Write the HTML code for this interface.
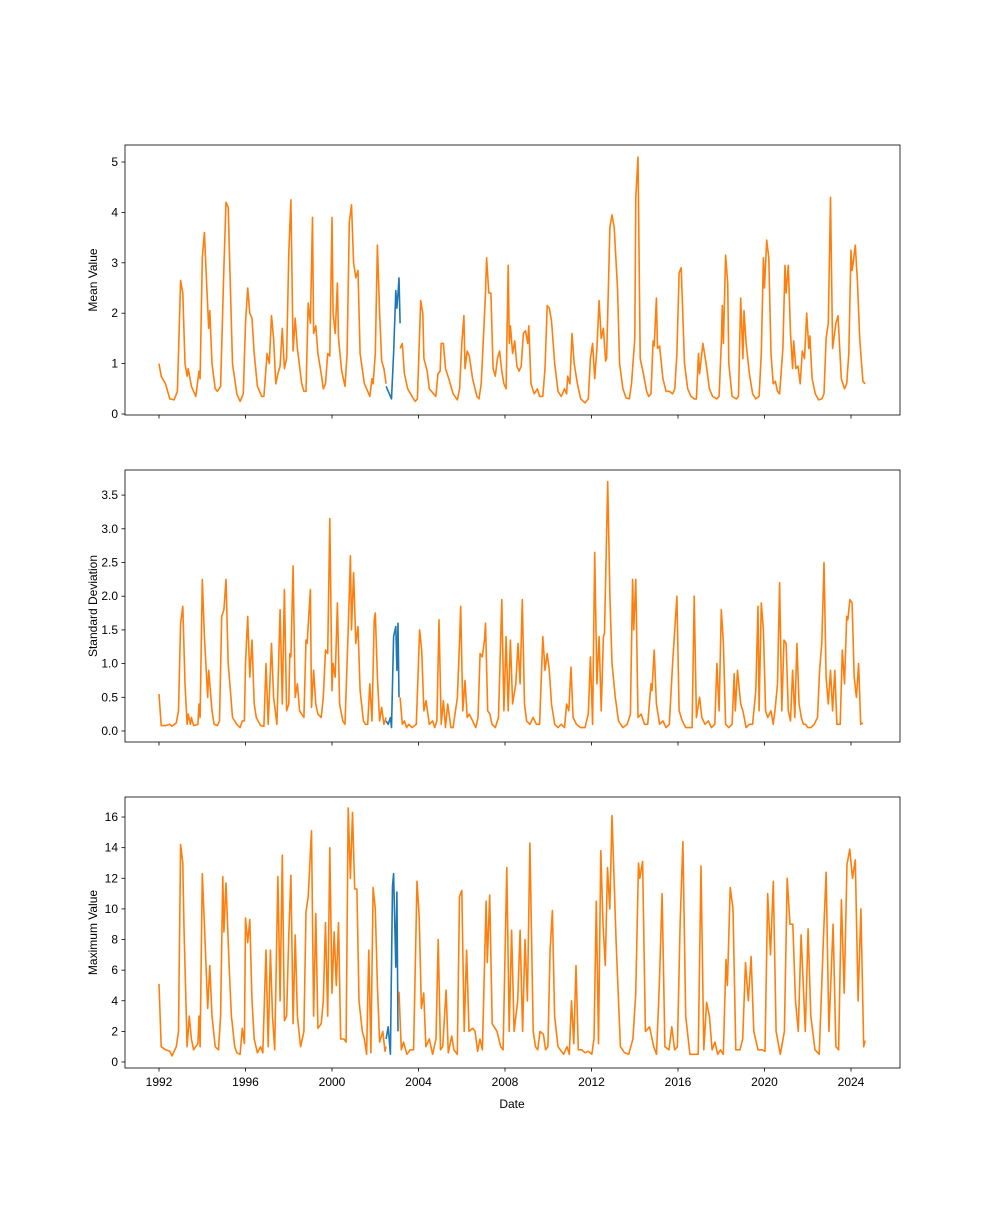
<!DOCTYPE html>
<html><head><meta charset="utf-8"><style>
body{margin:0;background:#fff}
svg text{font-family:"Liberation Sans","DejaVu Sans",sans-serif;font-size:12px;fill:#000}
</style></head><body>
<svg id="s" width="1000" height="1200" xmlns="http://www.w3.org/2000/svg"></svg>
<script>
const S=document.getElementById('s');
const X=t=>159+(t-1992)*21.625;
let h='';
function parse(str){const a=str.trim().split(/[\s,]+/).map(Number);const r=[];for(let i=0;i<a.length;i+=2)r.push([a[i],a[i+1]]);return r;}
const AN=[[2003.1,2003.1],[2005.9,2006.0],[2008.7,2009.15],[2012.35,2012.95],[2021.45,2024.65]];
function remap(t){for(let i=0;i<AN.length-1;i++){const a=AN[i],b=AN[i+1];if(t<=b[0]||i==AN.length-2){return a[1]+(t-a[0])*(b[1]-a[1])/(b[0]-a[0]);}}return t;}
function panel(top,bot,y0,k,ticks,fmt,label,o1,blue,o2,showX,rm){
  const Y=v=>y0-v*k;
  h+=`<defs><clipPath id="c${top}"><rect x="125" y="${top}" width="775" height="${bot-top}"/></clipPath></defs>`;
  const pl=(pts,c)=>`<polyline clip-path="url(#c${top})" fill="none" stroke="${c}" stroke-width="1.6" stroke-linejoin="round" points="${pts.map(p=>X(p[0]).toFixed(1)+','+Y(p[1]).toFixed(1)).join(' ')}"/>`;
  let p2=parse(o2);if(rm)p2=p2.map(p=>[remap(p[0]),p[1]]);
  h+=pl(parse(blue),'#1f77b4')+pl(parse(o1),'#ff7f0e')+pl(p2,'#ff7f0e');
  h+=`<rect x="125" y="${top}" width="775" height="${bot-top}" fill="none" stroke="#000" stroke-width="0.8"/>`;
  for(const v of ticks){const y=Y(v);h+=`<line x1="121.5" x2="125" y1="${y}" y2="${y}" stroke="#000" stroke-width="0.8"/><text x="118" y="${y+4}" text-anchor="end">${fmt(v)}</text>`;}
  for(let yr=1992;yr<=2024;yr+=4){const x=X(yr);h+=`<line x1="${x}" x2="${x}" y1="${bot}" y2="${bot+3.5}" stroke="#000" stroke-width="0.8"/>`;if(showX)h+=`<text x="${x}" y="${bot+18}" text-anchor="middle">${yr}</text>`;}
  const cy=(top+bot)/2;h+=`<text transform="translate(97,${cy}) rotate(-90)" text-anchor="middle">${label}</text>`;
}
panel(145,415,414,50.4,[0,1,2,3,4,5],v=>v,'Mean Value',
`1992.0 1.0 1992.1 .75 1992.3 .6 1992.5 .3 1992.7 .28 1992.85 .45 1993.0 2.65 1993.1 2.4 1993.2 1.0 1993.3 .75 1993.35 .9 1993.5 .55 1993.7 .35 1993.85 .85 1993.9 .7 1994.0 3.1 1994.1 3.6 1994.2 2.6 1994.3 1.7 1994.35 2.05 1994.45 1.0 1994.6 .5 1994.7 .45 1994.85 .55 1995.0 2.9 1995.1 4.2 1995.2 4.1 1995.3 2.5 1995.4 1.0 1995.6 .4 1995.75 .25 1995.9 .4 1996.0 1.8 1996.1 2.5 1996.2 2.0 1996.3 1.9 1996.4 1.2 1996.55 .55 1996.75 .35 1996.85 .35 1997.0 1.2 1997.1 1.0 1997.2 1.95 1997.3 1.5 1997.4 .6 1997.5 .8 1997.6 .95 1997.7 1.7 1997.8 .9 1997.9 1.1 1998.0 3.2 1998.1 4.25 1998.2 1.25 1998.3 1.9 1998.4 1.3 1998.6 .6 1998.7 .45 1998.8 .45 1998.9 2.2 1999.0 1.8 1999.1 3.9 1999.15 1.6 1999.25 1.75 1999.35 1.2 1999.5 .8 1999.6 .5 1999.7 .6 1999.8 1.2 1999.9 1.15 2000.0 3.9 2000.05 2.0 2000.15 1.6 2000.25 2.6 2000.3 1.5 2000.45 .85 2000.6 .55 2000.7 1.2 2000.8 3.8 2000.9 4.15 2001.0 3.0 2001.1 2.7 2001.2 2.85 2001.3 1.2 2001.5 .6 2001.65 .45 2001.75 .35 2001.85 .7 2001.9 .6 2002.0 1.2 2002.1 3.35 2002.2 2.0 2002.3 1.05 2002.4 .9 2002.5 .6`,
`2002.5 .55 2002.6 .45 2002.75 .3 2002.85 1.2 2002.95 2.45 2003.0 2.1 2003.05 2.4 2003.1 2.7 2003.15 1.8`,
`2003.15 1.3 2003.25 1.4 2003.35 .8 2003.5 .5 2003.7 .35 2003.85 .25 2003.95 .3 2004.05 1.6 2004.1 2.25 2004.2 2.0 2004.25 1.1 2004.4 .85 2004.5 .5 2004.7 .4 2004.8 .35 2004.9 .8 2005.0 .85 2005.05 1.4 2005.15 1.4 2005.25 .9 2005.4 .7 2005.6 .4 2005.8 .28 2005.9 .5 2006.0 1.4 2006.1 1.95 2006.15 .9 2006.25 1.25 2006.35 1.15 2006.5 .7 2006.7 .35 2006.8 .3 2006.9 .6 2007.0 1.5 2007.1 2.4 2007.15 3.1 2007.25 2.4 2007.35 2.4 2007.45 .9 2007.55 .75 2007.65 1.1 2007.75 1.25 2007.85 .85 2007.95 .6 2008.05 .5 2008.15 2.95 2008.2 1.4 2008.25 1.75 2008.35 1.2 2008.45 1.45 2008.55 .95 2008.65 .85 2008.75 .95 2008.85 1.6 2008.95 1.65 2009.05 1.4 2009.1 1.75 2009.2 .6 2009.35 .4 2009.5 .5 2009.6 .35 2009.75 .35 2009.85 .9 2009.95 2.15 2010.05 2.1 2010.15 1.85 2010.3 1.0 2010.45 .45 2010.6 .35 2010.75 .5 2010.85 .4 2010.9 .75 2011.0 .6 2011.1 1.6 2011.2 1.0 2011.35 .6 2011.5 .3 2011.7 .22 2011.85 .3 2011.95 1.1 2012.05 1.4 2012.15 .7 2012.25 1.3 2012.35 2.25 2012.45 1.5 2012.55 1.7 2012.65 1.05 2012.7 1.1 2012.85 3.7 2012.95 3.95 2013.05 3.7 2013.2 2.5 2013.3 1.0 2013.45 .5 2013.6 .32 2013.75 .3 2013.85 .6 2014.0 1.5 2014.05 4.3 2014.15 5.1 2014.25 1.1 2014.4 .8 2014.55 .45 2014.65 .35 2014.75 .4 2014.85 1.45 2014.9 1.35 2015.0 2.3 2015.05 1.3 2015.15 1.35 2015.3 .7 2015.45 .45 2015.6 .45 2015.75 .4 2015.85 .5 2015.95 1.2 2016.05 2.8 2016.15 2.9 2016.3 1.0 2016.45 .5 2016.6 .35 2016.75 .3 2016.85 .3 2016.95 1.2 2017.0 .8 2017.15 1.4 2017.3 1.0 2017.45 .5 2017.6 .35 2017.8 .3 2017.9 .35 2018.0 1.4 2018.05 2.15 2018.1 1.4 2018.2 3.15 2018.3 2.6 2018.35 1.0 2018.5 .35 2018.7 .3 2018.8 .35 2018.9 2.3 2019.0 1.1 2019.05 2.05 2019.15 1.4 2019.3 .8 2019.45 .4 2019.6 .3 2019.75 .35 2019.85 1.2 2019.95 3.1 2020.0 2.5 2020.1 3.45 2020.2 3.1 2020.3 1.2 2020.4 .6 2020.5 .65 2020.6 .45 2020.7 .4 2020.85 1.3 2020.95 2.95 2021.0 2.4 2021.1 2.95 2021.2 1.6 2021.3 .9 2021.35 1.45 2021.45 .9 2021.55 .95 2021.65 .6 2021.75 1.25 2021.85 1.1 2021.95 2.0 2022.05 1.3 2022.1 1.55 2022.2 .7 2022.35 .4 2022.5 .28 2022.65 .3 2022.75 .4 2022.85 1.5 2022.95 1.8 2023.05 4.3 2023.15 1.3 2023.3 1.8 2023.4 1.95 2023.55 .7 2023.7 .5 2023.8 .6 2023.9 1.2 2024.0 3.25 2024.05 2.85 2024.1 3.0 2024.2 3.35 2024.3 2.6 2024.4 1.5 2024.55 .65 2024.65 .6`,false,false);
panel(470,742,731,67.4,[0,.5,1,1.5,2,2.5,3,3.5],v=>v.toFixed(1),'Standard Deviation',
`1992.0 .55 1992.1 .08 1992.3 .08 1992.5 .1 1992.6 .07 1992.8 .12 1992.9 .3 1993.0 1.6 1993.1 1.85 1993.2 .7 1993.3 .1 1993.35 .25 1993.45 .1 1993.5 .2 1993.6 .08 1993.8 .1 1993.85 .4 1993.9 .2 1994.0 2.25 1994.1 1.4 1994.25 .5 1994.3 .9 1994.45 .3 1994.55 .1 1994.7 .08 1994.8 .15 1994.9 1.7 1995.0 1.8 1995.1 2.25 1995.2 1.0 1995.3 .6 1995.4 .2 1995.6 .1 1995.75 .05 1995.85 .15 1995.95 .15 1996.0 1.0 1996.1 1.7 1996.2 .8 1996.3 1.35 1996.4 .4 1996.5 .2 1996.7 .08 1996.85 .07 1996.95 1.0 1997.05 .1 1997.2 1.3 1997.3 .5 1997.45 .1 1997.6 1.8 1997.7 .4 1997.8 2.1 1997.9 .3 1998.0 .4 1998.05 1.15 1998.1 1.1 1998.2 2.45 1998.3 .5 1998.4 .7 1998.5 .3 1998.7 .2 1998.8 1.35 1998.85 1.3 1999.0 2.1 1999.05 .35 1999.15 .9 1999.25 .4 1999.35 .25 1999.5 .2 1999.6 .5 1999.7 1.2 1999.8 1.15 1999.9 3.15 2000.0 .6 2000.05 1.0 2000.15 .8 2000.25 1.9 2000.35 .4 2000.5 .15 2000.6 .1 2000.75 1.5 2000.85 2.6 2000.9 1.5 2001.0 2.35 2001.1 1.3 2001.2 1.55 2001.3 .6 2001.45 .15 2001.55 .1 2001.65 .1 2001.75 .7 2001.85 .15 2001.95 1.65 2002.0 1.75 2002.1 .8 2002.2 .15 2002.3 .35 2002.4 .1 2002.5 .2`,
`2002.5 .15 2002.6 .1 2002.7 .2 2002.75 .05 2002.85 1.4 2002.95 1.55 2003.0 .9 2003.05 1.6 2003.1 .5`,
`2003.15 .5 2003.25 .1 2003.35 .15 2003.45 .05 2003.55 .1 2003.7 .05 2003.9 .1 2004.05 1.5 2004.15 1.2 2004.25 .3 2004.35 .45 2004.5 .1 2004.65 .15 2004.75 .05 2004.85 .15 2004.95 1.65 2005.05 .1 2005.15 .45 2005.25 .05 2005.35 .4 2005.5 .05 2005.6 .05 2005.8 .5 2005.9 1.35 2005.95 1.85 2006.05 .3 2006.15 .75 2006.25 .2 2006.35 .25 2006.5 .15 2006.65 .05 2006.75 .2 2006.85 1.15 2006.95 1.1 2007.05 1.35 2007.1 1.6 2007.2 .3 2007.3 .25 2007.4 .1 2007.55 .05 2007.7 .2 2007.85 1.95 2007.95 .3 2008.05 1.4 2008.15 .3 2008.25 1.35 2008.35 .4 2008.5 .7 2008.6 1.3 2008.7 .7 2008.8 1.95 2008.9 .4 2009.0 .15 2009.15 .1 2009.3 .2 2009.45 .1 2009.6 .1 2009.75 1.4 2009.85 .9 2009.95 1.15 2010.05 .9 2010.15 .4 2010.3 .1 2010.45 .05 2010.6 .1 2010.75 .05 2010.85 .4 2010.95 .3 2011.05 .95 2011.15 .2 2011.3 .1 2011.5 .05 2011.7 .05 2011.85 .25 2011.95 1.1 2012.05 .1 2012.15 2.65 2012.25 .7 2012.35 1.4 2012.45 .3 2012.55 1.4 2012.6 1.45 2012.75 3.7 2012.85 2.0 2012.95 1.0 2013.1 .5 2013.25 .15 2013.45 .05 2013.65 .1 2013.8 .25 2013.9 2.25 2013.95 1.5 2014.05 2.25 2014.15 .2 2014.3 .25 2014.45 .1 2014.6 .1 2014.75 .7 2014.8 .6 2014.9 1.2 2015.0 .4 2015.15 .1 2015.3 .15 2015.45 .05 2015.6 .1 2015.75 1.0 2015.95 2.0 2016.05 .3 2016.2 .15 2016.35 .05 2016.55 .05 2016.65 .05 2016.75 2.0 2016.85 .2 2017.0 .5 2017.1 .2 2017.25 .1 2017.4 .15 2017.55 .05 2017.7 .1 2017.8 1.0 2017.9 .3 2018.0 1.8 2018.1 1.3 2018.2 .1 2018.35 .05 2018.5 .1 2018.6 .85 2018.65 .3 2018.75 .9 2018.9 .4 2019.0 .3 2019.15 .05 2019.3 .1 2019.45 .1 2019.6 .6 2019.7 1.85 2019.75 .3 2019.85 1.9 2019.95 1.5 2020.05 .3 2020.15 .2 2020.3 .3 2020.4 .1 2020.5 .35 2020.6 .7 2020.7 2.2 2020.8 .3 2020.9 1.35 2021.0 1.3 2021.1 .3 2021.2 .15 2021.3 .9 2021.4 .2 2021.5 1.3 2021.6 .4 2021.7 .2 2021.8 .1 2021.9 .1 2022.0 .05 2022.15 .05 2022.3 .1 2022.45 .2 2022.55 .9 2022.65 1.3 2022.75 2.5 2022.85 .8 2022.95 .4 2023.05 .9 2023.15 .3 2023.25 .9 2023.35 .1 2023.5 .1 2023.6 1.2 2023.7 .7 2023.8 1.7 2023.85 1.65 2023.95 1.95 2024.05 1.9 2024.15 .8 2024.25 .5 2024.35 1.0 2024.45 .1 2024.55 .12`,false,false);
panel(797,1068,1062,15.31,[0,2,4,6,8,10,12,14,16],v=>v,'Maximum Value',
`1992.0 5.1 1992.1 1 1992.3 .8 1992.5 .7 1992.6 .4 1992.8 1.0 1992.9 2 1993.0 14.2 1993.1 13 1993.15 9 1993.3 1 1993.4 3 1993.5 1.5 1993.6 .8 1993.8 1.2 1993.85 3 1993.9 1 1994.0 12.3 1994.1 9 1994.25 3.5 1994.35 6.3 1994.45 3 1994.6 1 1994.75 .8 1994.85 3 1994.95 12.1 1995.0 8.5 1995.1 11.7 1995.25 6 1995.35 3 1995.5 1 1995.6 .6 1995.75 .5 1995.85 2.2 1995.95 1.2 1996.0 9.4 1996.1 7.8 1996.2 9.3 1996.3 4 1996.4 1.5 1996.55 .6 1996.7 1 1996.8 .6 1996.95 7.3 1997.05 1 1997.15 7.3 1997.25 3 1997.35 .8 1997.5 12.1 1997.6 4 1997.7 13.5 1997.8 2.7 1997.9 3 1998.0 8.3 1998.1 12.2 1998.2 2.5 1998.3 8.3 1998.4 3 1998.55 1 1998.7 2 1998.8 9.8 1998.9 10.8 1999.05 15.1 1999.15 3 1999.25 9.7 1999.35 2.2 1999.5 2.5 1999.6 4 1999.7 9.1 1999.8 3 1999.9 14 2000.0 4.5 2000.1 8.5 2000.2 5 2000.3 9.1 2000.4 1.5 2000.55 1.5 2000.65 1.3 2000.75 16.6 2000.85 12 2000.95 16.3 2001.05 11.3 2001.15 11.3 2001.25 4 2001.4 2 2001.5 1.5 2001.6 .5 2001.7 7.3 2001.8 .6 2001.9 11.4 2002.0 10 2002.1 5 2002.2 1.3 2002.35 2 2002.45 .7 2002.5 1`,
`2002.5 1.5 2002.6 2.3 2002.7 .5 2002.8 11.5 2002.85 12.3 2002.95 6.2 2003.0 11.1 2003.05 2`,
`2003.1 4.6 2003.2 .8 2003.3 1.3 2003.45 .5 2003.6 .8 2003.75 .8 2003.9 11.8 2004.0 9.5 2004.1 3.5 2004.2 4.5 2004.3 1 2004.45 1.5 2004.6 .5 2004.75 1.5 2004.85 8 2004.95 .8 2005.05 1 2005.2 4.7 2005.3 .6 2005.45 1.7 2005.55 .8 2005.7 .5 2005.8 10.8 2005.9 11.2 2006.0 2 2006.1 7.3 2006.2 2 2006.35 2.2 2006.45 2 2006.55 .7 2006.65 1.5 2006.75 .8 2006.9 10.5 2006.95 6.5 2007.05 10.9 2007.15 2.5 2007.35 2 2007.5 1 2007.6 .8 2007.75 12.7 2007.85 2 2007.95 8.6 2008.05 2 2008.2 4 2008.3 8.6 2008.4 2 2008.5 8 2008.6 4 2008.7 14.3 2008.85 2 2008.95 1 2009.05 .8 2009.15 2 2009.3 1.8 2009.4 .8 2009.5 1 2009.6 7.3 2009.7 9.9 2009.8 3 2009.95 1 2010.05 .8 2010.2 .5 2010.35 1 2010.45 .5 2010.55 4 2010.65 1.2 2010.75 6.3 2010.85 .8 2011.0 .8 2011.15 .6 2011.3 .7 2011.45 .5 2011.55 1.5 2011.65 10.5 2011.75 1.2 2011.85 13.8 2011.95 9 2012.05 6.3 2012.15 12.7 2012.25 10 2012.35 16.1 2012.5 7.7 2012.65 1 2012.8 .6 2012.95 .5 2013.1 1.5 2013.2 4.4 2013.3 13 2013.35 12 2013.45 13.1 2013.55 2 2013.7 2.3 2013.85 1 2013.95 .5 2014.05 5 2014.15 11 2014.25 1 2014.4 .8 2014.5 2.3 2014.6 .8 2014.7 1 2014.8 9.2 2014.9 14.4 2015.0 3 2015.15 .5 2015.3 .5 2015.45 .5 2015.55 12.8 2015.65 .8 2015.75 3.9 2015.85 3 2015.95 .8 2016.05 1.3 2016.15 .5 2016.25 .8 2016.35 .5 2016.45 6.7 2016.5 5 2016.6 11.4 2016.7 10 2016.8 .8 2016.95 .8 2017.05 1.5 2017.15 6.5 2017.25 4 2017.35 6.9 2017.45 2 2017.6 .8 2017.75 .8 2017.85 .7 2017.95 11 2018.05 7 2018.15 11.8 2018.25 2 2018.4 .5 2018.55 2 2018.65 12 2018.75 9 2018.85 9 2018.95 4 2019.05 2 2019.15 8.3 2019.3 2 2019.4 8.7 2019.5 3 2019.65 .8 2019.8 .5 2019.95 8 2020.05 12.4 2020.15 2 2020.3 9 2020.4 1 2020.5 .8 2020.6 10.6 2020.7 4.5 2020.8 12.9 2020.9 13.9 2021.0 12 2021.1 13.2 2021.2 4 2021.3 10 2021.4 1 2021.45 1.4`,true,true);
h+=`<text x="512" y="1108" text-anchor="middle">Date</text>`;
S.innerHTML=h;
</script>
</body></html>
